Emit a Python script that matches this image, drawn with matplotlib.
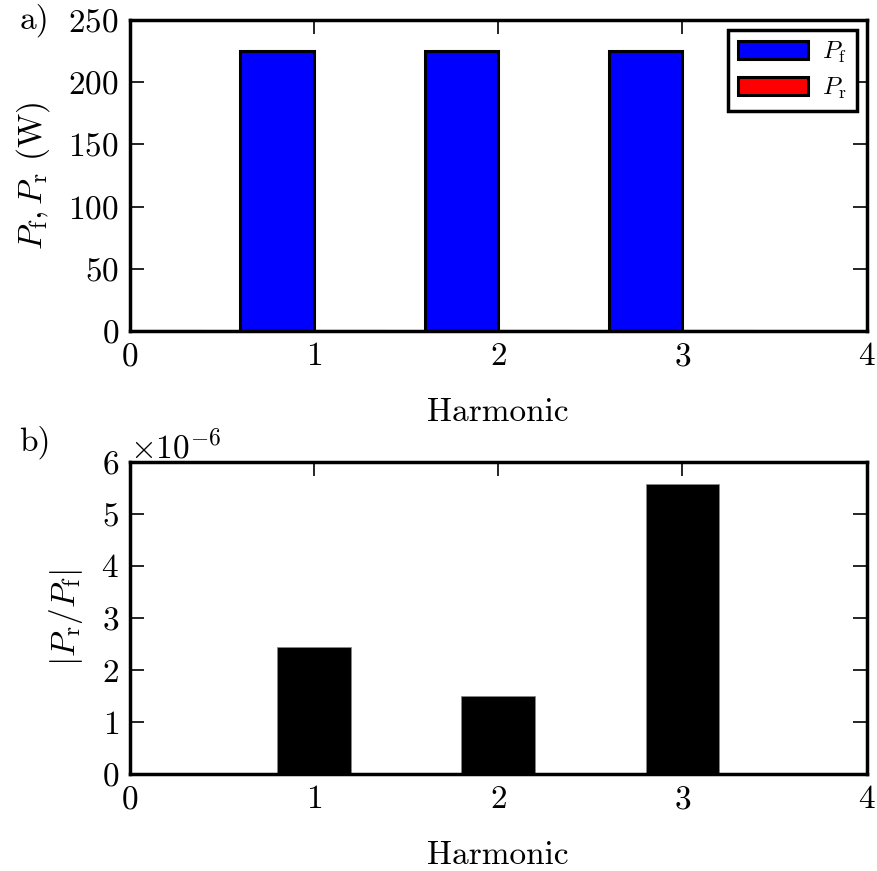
import matplotlib
matplotlib.use("Agg")
import matplotlib.pyplot as plt
import numpy as np

plt.rcParams['font.family'] = 'serif'
plt.rcParams['font.serif'] = ['cmr10', 'DejaVu Serif']
plt.rcParams['mathtext.fontset'] = 'cm'
plt.rcParams['axes.formatter.use_mathtext'] = True
plt.rcParams['axes.unicode_minus'] = False

harmonic = [0, 1, 2, 3]
P_f = [0.0, 225.0, 225.0, 225.0]
P_r = [0.0, 5.5e-4, 3.4e-4, 1.26e-3]
ratio = [0.0, 2.44e-6, 1.51e-6, 5.58e-6]

fs = 24
fig = plt.figure(figsize=(8.78, 8.71), dpi=100)
ax1 = fig.add_axes([0.148, 0.620, 0.839, 0.357])
ax2 = fig.add_axes([0.148, 0.111, 0.839, 0.359])

h = np.array(harmonic)
ax1.bar(h - 0.4, P_f, width=0.4, align='edge', color='#0000ff', edgecolor='black', linewidth=2.2, label=r'$P_\mathrm{f}$')
ax1.bar(h, P_r, width=0.4, align='edge', color='#ff0000', edgecolor='black', linewidth=2.2, label=r'$P_\mathrm{r}$')
ax1.set_xlim(0, 4)
ax1.set_ylim(0, 250)
ax1.set_xticks([0, 1, 2, 3, 4])
ax1.set_yticks([0, 50, 100, 150, 200, 250])
ax1.set_xlabel('Harmonic', fontsize=fs, labelpad=19)
ax1.set_ylabel(r'$P_\mathrm{f}, P_\mathrm{r}$ (W)', fontsize=fs, labelpad=12)
leg = ax1.legend(loc='upper right', fontsize=18, fancybox=False, framealpha=1,
                 borderaxespad=0.4, handlelength=2.8, handleheight=0.72,
                 labelspacing=0.42, borderpad=0.4, handletextpad=0.55)
leg.get_frame().set_edgecolor('black')
leg.get_frame().set_linewidth(2.5)

ax2.bar(h, ratio, width=0.4, align='center', color='black', edgecolor='#888888', linewidth=0.5)
ax2.set_xlim(0, 4)
ax2.set_ylim(0, 6e-6)
ax2.set_xticks([0, 1, 2, 3, 4])
ax2.set_yticks(np.arange(0, 7) * 1e-6)
ax2.set_xlabel('Harmonic', fontsize=fs, labelpad=19)
ax2.set_ylabel(r'$|P_\mathrm{r}/P_\mathrm{f}|$', fontsize=fs, labelpad=12)
ax2.yaxis.get_offset_text().set_fontsize(fs)

for ax in (ax1, ax2):
    for s in ax.spines.values():
        s.set_linewidth(2.5)
    ax.tick_params(direction='in', top=True, right=True, length=10, width=1.2,
                   labelsize=fs, pad=8)

fig.text(0.022, 0.977, 'a)', fontsize=fs, ha='left', va='center')
fig.text(0.022, 0.492, 'b)', fontsize=fs, ha='left', va='center')

fig.savefig('out.png', dpi=100)
